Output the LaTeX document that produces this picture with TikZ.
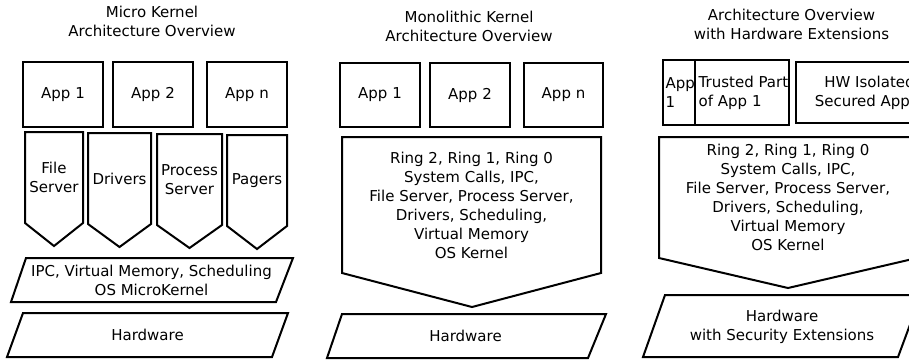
\documentclass[tikz,border=0pt]{standalone}
\usepackage{fontspec}
\setmainfont{DejaVu Sans}
\begin{document}
\begin{tikzpicture}[x=1pt,y=-1pt,
  shp/.style={draw=black, line width=2pt, line join=miter},
  txt/.style={align=center, inner sep=0pt, font=\fontsize{15}{19}\selectfont},
  ltxt/.style={align=left, inner sep=0pt, anchor=west, font=\fontsize{15}{19}\selectfont}]
\path[use as bounding box] (0,0) rectangle (909,360);
\clip (0,0) rectangle (909,360);

% ---------- Panel 1: Micro Kernel ----------
\node[txt] (t1) at (152,21.5) {Micro Kernel\\Architecture Overview};
\draw[shp] (23,62) rectangle (103,127);
\node[txt] (m-app1) at (63,94.5) {App 1};
\draw[shp] (113,62) rectangle (193,127);
\node[txt] (m-app2) at (153,94.5) {App 2};
\draw[shp] (207,62) rectangle (287,127);
\node[txt] (m-appn) at (247,94.5) {App n};

\draw[shp] (25,132)--(83,132)--(83,223)--(54,246)--(25,223)--cycle;
\node[txt] (m-fs) at (54,177.5) {File\\Server};
\draw[shp] (88,133)--(151,133)--(151,224)--(119.5,247)--(88,224)--cycle;
\node[txt] (m-dr) at (119.5,178.5) {Drivers};
\draw[shp] (157,134)--(222,134)--(222,225)--(189.5,248)--(157,225)--cycle;
\node[txt] (m-ps) at (189.5,179.5) {Process\\Server};
\draw[shp] (227,135)--(287,135)--(287,226)--(257,249)--(227,226)--cycle;
\node[txt] (m-pg) at (257,180.5) {Pagers};

\draw[shp] (26,258)--(293,258)--(276,302)--(11,302)--cycle;
\node[txt] (m-k) at (151.5,280) {IPC, Virtual Memory, Scheduling\\OS MicroKernel};
\draw[shp] (23,313)--(288,313)--(272,357)--(7,357)--cycle;
\node[txt] (m-hw) at (147.5,335) {Hardware};

% ---------- Panel 2: Monolithic Kernel ----------
\node[txt] (t2) at (469,26.5) {Monolithic Kernel\\Architecture Overview};
\draw[shp] (340,63) rectangle (420,127);
\node[txt] (k-app1) at (380,95) {App 1};
\draw[shp] (430,63) rectangle (510,127);
\node[txt] (k-app2) at (470,95) {App 2};
\draw[shp] (524,63) rectangle (603,127);
\node[txt] (k-appn) at (563.5,95) {App n};

\draw[shp] (342,137)--(601,137)--(601,273)--(472,307)--(342,273)--cycle;
\node[txt] (k-k) at (471.5,205.5) {Ring 2, Ring 1, Ring 0\\System Calls, IPC,\\File Server, Process Server,\\Drivers, Scheduling,\\Virtual Memory\\OS Kernel};
\draw[shp] (342,314)--(606,314)--(588,358)--(327,358)--cycle;
\node[txt] (k-hw) at (465.5,336) {Hardware};

% ---------- Panel 3: Hardware Extensions ----------
\node[txt] (t3) at (791.5,24.5) {Architecture Overview\\with Hardware Extensions};
\draw[shp] (663,60) rectangle (695,125);
\node[ltxt] (h-app1) at (665.5,92.5) {App\\1};
\draw[shp] (695,60) rectangle (789,125);
\node[ltxt] (h-tp) at (698.5,92.5) {Trusted Part\\of App 1};
\draw[shp] (796,62) rectangle (942,123);
\node[txt] (h-iso) at (869.5,92.5) {HW Isolated\\Secured App 1};

\draw[shp] (659,137)--(917,137)--(917,258)--(788,288)--(659,258)--cycle;
\node[txt] (h-k) at (788,197.5) {Ring 2, Ring 1, Ring 0\\System Calls, IPC,\\File Server, Process Server,\\Drivers, Scheduling,\\Virtual Memory\\OS Kernel};
\draw[shp] (665,295)--(921,295)--(898,357)--(643,357)--cycle;
\node[txt] (h-hw) at (782,327) {Hardware\\with Security Extensions};
\end{tikzpicture}
\end{document}
